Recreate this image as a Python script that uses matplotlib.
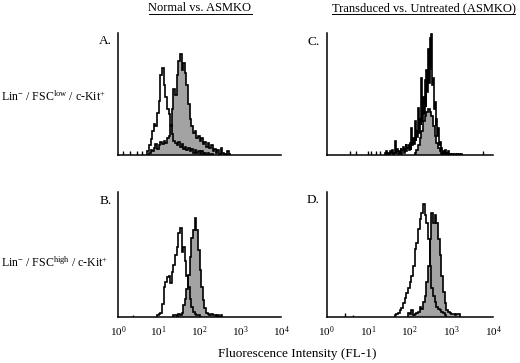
"""Flow cytometry overlay histograms: Normal vs. ASMKO and Transduced vs. Untreated."""
import matplotlib
matplotlib.use("Agg")
import matplotlib.pyplot as plt
from matplotlib.lines import Line2D
import numpy as np

plt.rcParams["font.family"] = ["Liberation Serif", "DejaVu Serif"]
plt.rcParams["mathtext.fontset"] = "custom"
plt.rcParams["mathtext.rm"] = "Liberation Serif"
plt.rcParams["mathtext.it"] = "Liberation Serif:italic"
plt.rcParams["mathtext.bf"] = "Liberation Serif:bold"

# counts are % of axis height; each histogram starts at the log10 value in
# *_START and its bins are *_STEP decades wide
A_OPEN_START, A_OPEN_STEP = 0.72, 0.04
A_OPEN = [3, 8, 13, 20, 26, 24, 35, 45, 66, 72, 58, 48, 38, 34, 25, 17, 12, 10,
          8, 11, 7, 9, 5, 7, 4, 6, 3, 5, 2, 4, 2, 3, 1, 3, 1, 2, 0, 2, 0, 1]
A_FILL_START, A_FILL_STEP = 0.76, 0.04
A_FILL = [2, 4, 3, 6, 9, 5, 8, 11, 9, 12, 10, 14, 16, 24, 38, 55, 50, 66, 78, 84,
          70, 76, 68, 58, 42, 30, 24, 18, 20, 14, 16, 12, 14, 9, 11, 7, 10, 6, 8,
          3, 5, 2, 4, 1, 6, 2, 1, 0, 3, 1]
A_EVENTS = [(0.13, 3), (0.29, 3), (0.46, 3), (0.58, 3)]

B_OPEN_START, B_OPEN_STEP = 0.96, 0.04
B_OPEN = [1, 2, 3, 10, 24, 28, 32, 33, 27, 36, 42, 50, 56, 68, 72, 52, 56, 45,
          33, 24, 14, 8, 4, 2, 1, 1]
B_FILL_START, B_FILL_STEP = 1.36, 0.04
B_FILL = [1, 1, 0, 2, 1, 3, 9, 14, 22, 34, 48, 64, 70, 80, 70, 54, 38, 24, 13,
          7, 3, 2, 1, 2, 1, 1, 0, 1, 0, 1]
B_EVENTS = [(0.37, 1)]

C_OPEN_START, C_OPEN_STEP = 1.40, 0.02
C_OPEN = [2, 0, 3, 1, 2, 0, 3, 1, 2, 4, 0, 2, 12, 1, 3, 5, 1, 3, 2, 6, 1, 4, 7,
          2, 5, 9, 3, 6, 8, 4,
          10, 4, 22, 8, 14, 9, 28, 12, 20, 15, 39, 18, 30, 25, 64, 28, 48, 34,
          62, 40, 70, 52, 88, 60, 97, 70, 100, 58, 64, 38, 44, 24, 30, 16, 22,
          8, 11, 4, 6, 2,
          3, 1, 4, 0, 2, 1, 3, 0, 1, 2, 0, 1, 0, 1, 1, 0, 0, 1, 0, 1, 0, 0, 1]
C_FILL_START, C_FILL_STEP = 2.12, 0.04
C_FILL = [2, 4, 8, 14, 20, 28, 32, 36, 38, 36, 32, 24, 16, 10, 6, 3, 1]
C_EVENTS = [(0.56, 3), (0.72, 3), (1.00, 3), (1.08, 3), (1.20, 3), (1.28, 3),
            (3.76, 3)]

D_OPEN_START, D_OPEN_STEP = 1.64, 0.04
D_OPEN = [1, 2, 3, 5, 7, 11, 15, 19, 23, 28, 33, 41, 55, 60, 71, 79, 84, 91, 82,
          76, 63, 41, 23, 17, 12, 8, 6, 5, 4, 3, 1]
D_FILL_START, D_FILL_STEP = 1.96, 0.04
D_FILL = [3, 2, 5, 1, 2, 3, 4, 8, 6, 12, 17, 28, 41, 63, 84, 76, 82, 76, 63, 50,
          33, 20, 11, 5, 4, 3, 2, 2, 1, 2, 2]
D_EVENTS = [(0.44, 3), (0.64, 1)]

TICK_EXP = [0, 1, 2, 3, 4]
COL_TITLES = ["Normal vs. ASMKO", "Transduced vs. Untreated (ASMKO)"]
ROW_LABELS = [r"Lin$^{\mathrm{-}}$ / FSC$^{\mathrm{low}}$ / c-Kit$^{\mathrm{+}}$",
              r"Lin$^{\mathrm{-}}$ / FSC$^{\mathrm{high}}$ / c-Kit$^{\mathrm{+}}$"]
LETTERS = ["A.", "B.", "C.", "D."]

FILL_COLOR = "#a3a3a3"
W, H = 520, 363


def px_axes(fig, left, top, right, bottom):
    return fig.add_axes([left / W, 1 - bottom / H, (right - left) / W,
                         (bottom - top) / H])


def edges_for(start, step, vals):
    return 10 ** (start + step * np.arange(len(vals) + 1))


def draw_panel(ax, open_hist, fill_hist, events, show_ticks):
    fe = edges_for(*fill_hist)
    oe = edges_for(*open_hist)
    ax.stairs(fill_hist[2], fe, fill=True, color=FILL_COLOR, lw=0)
    ax.stairs(fill_hist[2], fe, color="black", lw=1.2)
    ax.stairs(open_hist[2], oe, color="black", lw=1.2)
    for pos, h in events:
        ax.vlines(10 ** pos, 0, h, color="black", lw=1.0)
    ax.set_xscale("log")
    ax.set_xlim(1, 1e4)
    ax.set_ylim(0, 101)
    for s in ("top", "right"):
        ax.spines[s].set_visible(False)
    for s in ("left", "bottom"):
        ax.spines[s].set_linewidth(1.1)
    ax.set_yticks([])
    ax.minorticks_off()
    ax.set_xticks([10 ** e for e in TICK_EXP])
    if show_ticks:
        ax.set_xticklabels([rf"$10^{{{e}}}$" for e in TICK_EXP], fontsize=8)
    else:
        ax.set_xticklabels([])
    ax.tick_params(axis="x", length=0, pad=6)


fig = plt.figure(figsize=(W / 100, H / 100), dpi=100)

ax_a = px_axes(fig, 118, 33, 281, 155)
ax_b = px_axes(fig, 118, 192, 281, 316.5)
ax_c = px_axes(fig, 326.5, 33, 493, 155)
ax_d = px_axes(fig, 326.5, 192, 493, 316.5)

draw_panel(ax_a, (A_OPEN_START, A_OPEN_STEP, A_OPEN),
           (A_FILL_START, A_FILL_STEP, A_FILL), A_EVENTS, False)
draw_panel(ax_b, (B_OPEN_START, B_OPEN_STEP, B_OPEN),
           (B_FILL_START, B_FILL_STEP, B_FILL), B_EVENTS, True)
draw_panel(ax_c, (C_OPEN_START, C_OPEN_STEP, C_OPEN),
           (C_FILL_START, C_FILL_STEP, C_FILL), C_EVENTS, False)
draw_panel(ax_d, (D_OPEN_START, D_OPEN_STEP, D_OPEN),
           (D_FILL_START, D_FILL_STEP, D_FILL), D_EVENTS, True)

# panel letters
for letter, (x, y) in zip(LETTERS, [(112, 41), (112, 201), (320, 42), (319, 200)]):
    fig.text(x / W, 1 - y / H, letter, ha="right", va="center", fontsize=9.5)

# row labels
for label, y in zip(ROW_LABELS, [97, 263]):
    fig.text(1 / W, 1 - y / H, label, ha="left", va="center", fontsize=8.6)

# underlined column titles
titles = []
for title, x in zip(COL_TITLES, [200, 423.5]):
    titles.append(fig.text(x / W, 1 - 8 / H, title, ha="center", va="center",
                           fontsize=9))

fig.text(297 / W, 1 - 354 / H, "Fluorescence Intensity (FL-1)", ha="center",
         va="center", fontsize=9.5)

fig.canvas.draw()
renderer = fig.canvas.get_renderer()
for t in titles:
    bb = t.get_window_extent(renderer)
    y = (bb.y0 + 0.5) / H
    fig.add_artist(Line2D([bb.x0 / W, bb.x1 / W], [y, y], color="black",
                          lw=0.7, transform=fig.transFigure))

fig.savefig("out.png", dpi=100)
plt.close(fig)
